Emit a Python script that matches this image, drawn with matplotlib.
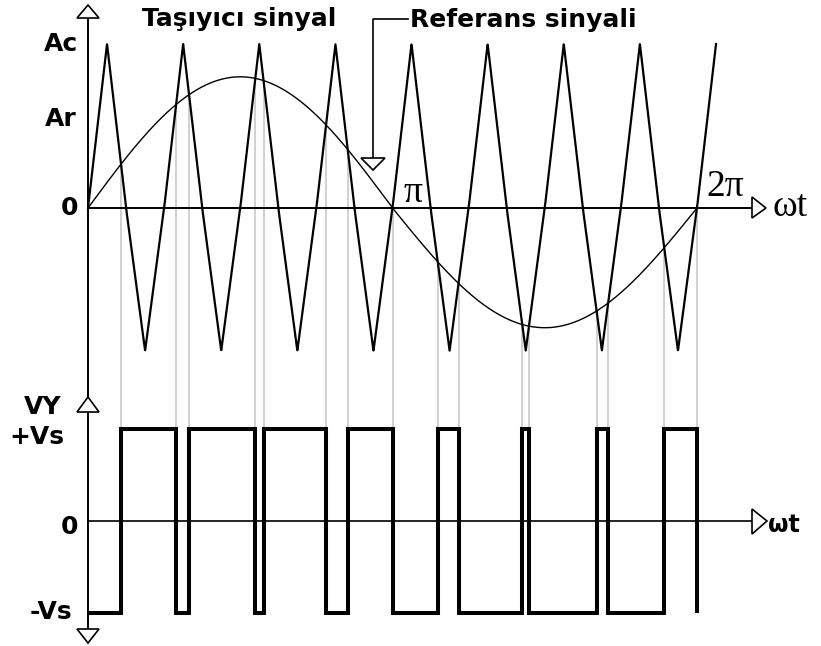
import numpy as np
import matplotlib
matplotlib.use("Agg")
import matplotlib.pyplot as plt
from matplotlib.patches import Polygon

# --- waveform parameters (one fundamental period 0..2π) ---
carrier_cycles = 8          # carrier periods per reference period
carrier_peak = 1.0          # Ac
carrier_trough = -0.87
ref_peak = 0.80             # reference sine, positive half
ref_trough = -0.73          # reference sine, negative half
vs_level = 1.0              # +Vs / -Vs

top_labels = ["Ac", "Ar", "0"]
top_label_values = [carrier_peak, 0.54, 0.0]
bottom_labels = ["VY", "+Vs", "0", "-Vs"]
bottom_label_values = [1.24, 0.91, -0.07, -0.99]

TWO_PI = 2 * np.pi
T = TWO_PI / carrier_cycles


def carrier(x):
    tri = (2 / np.pi) * np.arcsin(np.sin(carrier_cycles * x))
    return np.where(tri >= 0, tri * carrier_peak, tri * -carrier_trough)


def reference(x):
    s = np.sin(x)
    return np.where(s >= 0, s * ref_peak, s * -ref_trough)


# comparator: output high while reference > carrier
xs = np.linspace(0, TWO_PI, 400001)[1:-1]
state = reference(xs) > carrier(xs)
idx = np.nonzero(state[1:] != state[:-1])[0]
crossings = []
for i in idx:
    x0, x1 = xs[i], xs[i + 1]
    d0 = reference(x0) - carrier(x0)
    d1 = reference(x1) - carrier(x1)
    crossings.append(float(x0 - d0 * (x1 - x0) / (d1 - d0)))
crossings.append(TWO_PI)

pwm_x, pwm_y = [0.0], [-vs_level]
level = -vs_level
for xc in crossings:
    pwm_x += [xc, xc]
    pwm_y += [level, -level]
    level = -level

# --- figure ---
W, H = 821, 646
fig = plt.figure(figsize=(W / 100, H / 100), dpi=100)
split = 380
ax_top = fig.add_axes([0, (H - split) / H, 1, split / H])
ax_bot = fig.add_axes([0, 0, 1, (H - split) / H])

px_per_rad = 609 / TWO_PI
x0_px = 88
xlim = (-x0_px / px_per_rad, (W - x0_px) / px_per_rad)
top_zero, top_unit = 208, 164
bot_zero, bot_unit = 521, 92
ax_top.set_xlim(*xlim)
ax_top.set_ylim(-(split - top_zero) / top_unit, top_zero / top_unit)
ax_bot.set_xlim(*xlim)
ax_bot.set_ylim((bot_zero - H) / bot_unit, (bot_zero - split) / bot_unit)
for ax in (ax_top, ax_bot):
    ax.set_axis_off()


def rx(px):
    return (px - x0_px) / px_per_rad


def ty(py):
    return (top_zero - py) / top_unit


def by(py):
    return (bot_zero - py) / bot_unit


def arrow_head(ax, pts):
    ax.add_patch(Polygon(pts, closed=True, facecolor="white", edgecolor="black",
                         lw=1.2, zorder=6, clip_on=False, joinstyle="miter"))


axis_kw = dict(color="black", lw=1.4, zorder=4, solid_capstyle="butt")
gray = "#c8c8c8"

# vertical axis running through both panels
ax_top.plot([0, 0], [ax_top.get_ylim()[0], ty(18)], **axis_kw)
ax_bot.plot([0, 0], [ax_bot.get_ylim()[1], by(629)], **axis_kw)
arrow_head(ax_top, [(rx(77), ty(18)), (rx(99), ty(18)), (0, ty(5))])
arrow_head(ax_bot, [(rx(77), by(412)), (rx(99), by(412)), (0, by(397))])
arrow_head(ax_bot, [(rx(77), by(629)), (rx(99), by(629)), (0, by(643))])

# horizontal ωt axes
ax_top.plot([0, rx(752)], [0, 0], **axis_kw)
arrow_head(ax_top, [(rx(752), ty(197)), (rx(752), ty(218)), (rx(766), 0)])
ax_bot.plot([0, rx(752)], [0, 0], color="black", lw=1.2, zorder=4)
arrow_head(ax_bot, [(rx(752), by(509)), (rx(752), by(534)), (rx(767), 0)])

# carrier and reference
xc_plot = np.linspace(0, TWO_PI + T / 4, 4001)
ax_top.plot(xc_plot, carrier(xc_plot), color="black", lw=1.6, zorder=3)
xr_plot = np.linspace(0, TWO_PI, 2001)
ax_top.plot(xr_plot, reference(xr_plot), color="black", lw=1.0, zorder=3)

# projection lines from each intersection down to the PWM pulses
for xc in crossings:
    ax_top.plot([xc, xc], [float(reference(xc)), ax_top.get_ylim()[0]],
                color=gray, lw=1.2, zorder=1, solid_capstyle="butt")
    ax_bot.plot([xc, xc], [ax_bot.get_ylim()[1], vs_level],
                color=gray, lw=1.2, zorder=1, solid_capstyle="butt")

# PWM output
ax_bot.plot(pwm_x, pwm_y, color="black", lw=2.9, zorder=5,
            solid_joinstyle="miter", solid_capstyle="butt")

# labels
bold = dict(family="DejaVu Sans", fontweight="bold", fontsize=18)
serif = dict(family="Liberation Serif", fontsize=27)
label_right = {"Ac": 78, "Ar": 77, "0": 78, "VY": 62, "+Vs": 64, "-Vs": 72}
for lab, v in zip(top_labels, top_label_values):
    ax_top.text(rx(label_right[lab]), v, lab, ha="right", va="center", **bold)
for lab, v in zip(bottom_labels, bottom_label_values):
    ax_bot.text(rx(label_right[lab]), v, lab, ha="right", va="center", **bold)

ax_top.text(rx(404), ty(202), "π", ha="left", va="baseline", **serif)
ax_top.text(rx(706), ty(196), "2π", ha="left", va="baseline", **serif)
ax_top.text(rx(772), ty(216), "ωt", ha="left", va="baseline", **serif)
ax_bot.text(rx(768), by(532), "ωt", ha="left", va="baseline",
            family="DejaVu Sans", fontweight="bold", fontsize=17)

ax_top.text(rx(142), ty(26), "Taşıyıcı sinyal", ha="left", va="baseline", **bold)
ax_top.text(rx(410), ty(27), "Referans sinyali", ha="left", va="baseline", **bold)

# pointer to the reference curve
ax_top.plot([rx(408), rx(373), rx(373)], [ty(19), ty(19), ty(158)],
            color="black", lw=1.2, zorder=4)
arrow_head(ax_top, [(rx(361), ty(158)), (rx(385), ty(158)), (rx(373), ty(170))])

fig.savefig("out.png", dpi=100, facecolor="white")
